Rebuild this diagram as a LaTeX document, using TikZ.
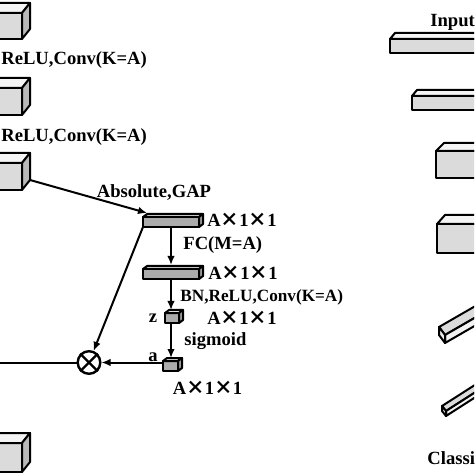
\documentclass[tikz,border=0pt]{standalone}
\usepackage{fontspec}
\setmainfont{Liberation Serif}
\newfontfamily\cjk{Noto Sans CJK SC}
\usetikzlibrary{calc,arrows.meta}

\tikzset{
  lbl/.style={font=\bfseries\fontsize{9.3}{11}\selectfont, inner sep=0pt},
  face/.style={draw=black, line width=1pt, line join=round},
  flow/.style={line width=1pt, -{Latex[length=4.5pt,width=3.8pt]}},
  pale/.style={face, fill=gray!28, inner sep=0pt, outer sep=0pt},
  dark/.style={face, fill=gray!65, inner sep=0pt, outer sep=0pt},
}
\newcommand{\crs}{{\cjk\bfseries ×}}
\newcommand{\dims}{A\crs1\crs1}
% top and side faces behind a front node
\newcommand{\depth}[5]{%
  \filldraw[face, fill=#4] (#1.north west) -- ++(#2,#3) -- ($(#1.north east)+(#2,#3)$) -- (#1.north east) -- cycle;
  \filldraw[face, fill=#5] (#1.north east) -- ++(#2,#3) -- ($(#1.south east)+(#2,#3)$) -- (#1.south east) -- cycle;
}

\begin{document}
\begin{tikzpicture}[x=0.5pt, y=-0.5pt]
  \clip (0,0) rectangle (474,474);

  % left column
  \node (c1) at (22,13)  [pale, anchor=north east, minimum width=18.5pt, minimum height=13pt] {};
  \node (c2) at (22,88)  [pale, anchor=north east, minimum width=18.5pt, minimum height=13.5pt] {};
  \node (c3) at (22,163) [pale, anchor=north east, minimum width=18.5pt, minimum height=13.5pt] {};
  \node (c4) at (22,443) [pale, anchor=north east, minimum width=18.5pt, minimum height=14.5pt] {};
  \depth{c1}{8}{-10}{gray!8}{gray!55}
  \depth{c2}{8}{-10}{gray!8}{gray!55}
  \depth{c3}{8}{-10}{gray!8}{gray!55}
  \depth{c4}{8}{-10}{gray!8}{gray!55}

  \node (r1) at (1,60)  [lbl, anchor=west] {ReLU,Conv(K=A)};
  \node (r2) at (1,137) [lbl, anchor=west] {ReLU,Conv(K=A)};

  % attention branch
  \node (gap) at (143,217) [dark, anchor=north west, minimum width=28pt, minimum height=5pt] {};
  \node (fc)  at (143,269) [dark, anchor=north west, minimum width=28pt, minimum height=5pt] {};
  \node (z)   at (165,313) [dark, anchor=north west, minimum width=7pt, minimum height=5pt] {};
  \node (a)   at (163,361) [dark, anchor=north west, minimum width=7.5pt, minimum height=5pt] {};
  \depth{gap}{4}{-3}{gray!25}{gray!80}
  \depth{fc}{4}{-3}{gray!25}{gray!80}
  \depth{z}{4}{-3}{gray!25}{gray!80}
  \depth{a}{4}{-3}{gray!25}{gray!80}

  \node (mul) at (89,362.5) [circle, draw, line width=1.2pt, minimum size=11.3pt, inner sep=0pt] {};
  \draw[line width=1.2pt] (mul.north west) -- (mul.south east);
  \draw[line width=1.2pt] (mul.north east) -- (mul.south west);
  \coordinate (skip) at (-10,362.5);

  \node (t1) at (154,192) [lbl] {Absolute,GAP};
  \node (d1) at (207,220) [lbl, anchor=west] {\dims};
  \node (t2) at (183,245) [lbl, anchor=west] {FC(M=A)};
  \node (d2) at (208,273) [lbl, anchor=west] {\dims};
  \node (t3) at (180,297) [lbl, anchor=west, font=\bfseries\fontsize{8.6}{10}\selectfont] {BN,ReLU,Conv(K=A)};
  \node (lz) at (153,318) [lbl] {z};
  \node (d3) at (207,318) [lbl, anchor=west] {\dims};
  \node (t4) at (184,341) [lbl, anchor=west] {sigmoid};
  \node (la) at (153,357) [lbl] {a};
  \node (d4) at (207.5,388) [lbl] {\dims};

  \draw[flow] ($(c3.south east)+(8,-10)$) -- ($(gap.north west)+(4,-4)$);
  \draw[flow] (gap.south) -- ($(gap.south |- fc.north)+(0,-4)$);
  \draw[flow] (fc.south) -- ($(fc.south |- z.north)+(0,-3)$);
  \draw[flow] (fc.south |- z.south) -- ($(fc.south |- a.north)+(0,-3)$);
  \draw[flow] (gap.south west) -- (mul);
  \draw[flow] (a.west |- mul) -- (mul.east);
  \draw[line width=1pt] (skip) -- (mul.west);

  % right column
  \node (in) at (430,22) [lbl, anchor=west] {Input};
  \node (b1) at (390,39)  [pale, anchor=north west, minimum width=50pt, minimum height=7pt] {};
  \node (b2) at (412,96)  [pale, anchor=north west, minimum width=40pt, minimum height=7pt] {};
  \node (b3) at (436,151) [pale, anchor=north west, minimum width=30pt, minimum height=13.5pt] {};
  \node (b4) at (437,224) [pale, anchor=north west, minimum width=30pt, minimum height=14.5pt] {};
  \depth{b1}{5}{-6}{gray!8}{gray!55}
  \depth{b2}{5}{-6}{gray!8}{gray!55}
  \depth{b3}{8}{-8}{gray!8}{gray!55}
  \depth{b4}{8}{-9}{gray!8}{gray!55}

  \filldraw[face, fill=gray!28] (445,335) -- (439,327) -- (491,297) -- (497,305) -- cycle;
  \filldraw[face, fill=gray!10] (445,343) -- (445,335) -- (497,305) -- (497,313) -- cycle;
  \filldraw[face, fill=gray!15] (445,343) -- (445,335) -- (439,327) -- (439,335) -- cycle;

  \filldraw[face, fill=gray!28] (446,411) -- (442,406) -- (492,374) -- (496,379) -- cycle;
  \filldraw[face, fill=gray!10] (446,416) -- (446,411) -- (496,379) -- (496,384) -- cycle;
  \filldraw[face, fill=gray!15] (446,416) -- (446,411) -- (442,406) -- (442,411) -- cycle;

  \node (cls) at (427,458) [lbl, anchor=west] {Classi};
\end{tikzpicture}
\end{document}
